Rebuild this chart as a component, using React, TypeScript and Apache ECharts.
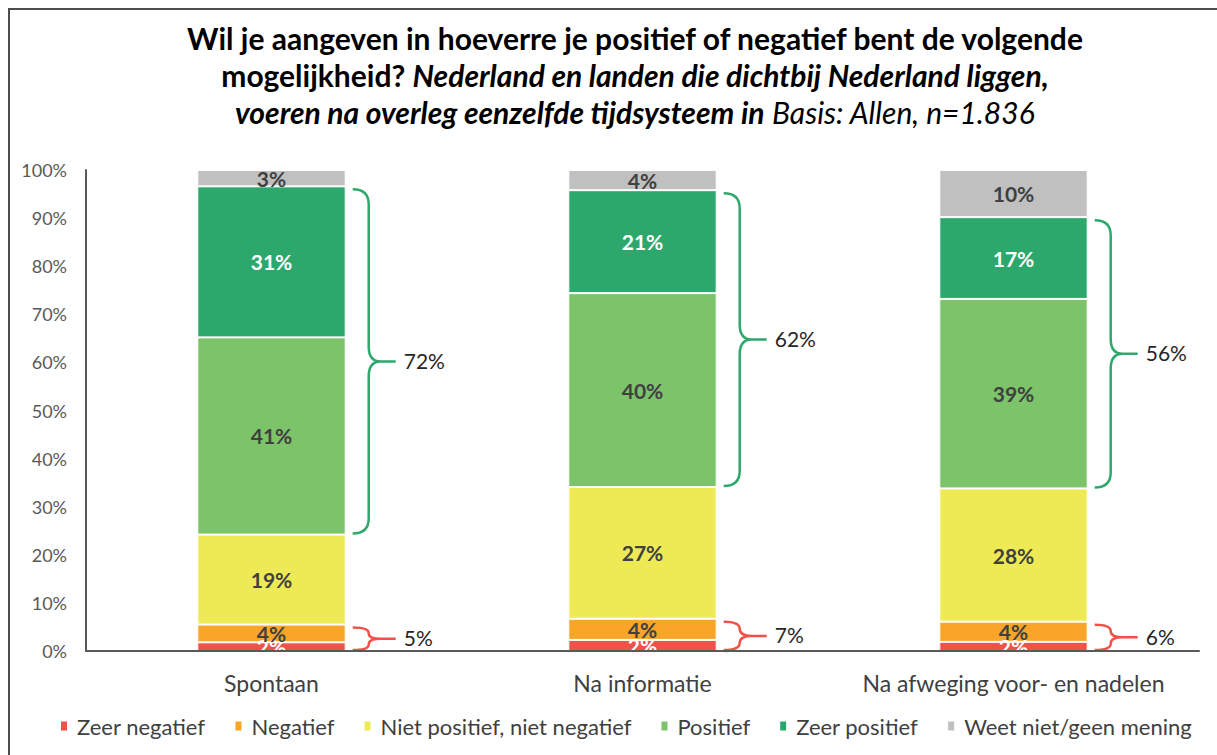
import React, { useEffect, useRef } from "react";
import * as echarts from "echarts";

const categories = ["Spontaan", "Na informatie", "Na afweging voor- en nadelen"];
const seriesNames = [
  "Zeer negatief",
  "Negatief",
  "Niet positief, niet negatief",
  "Positief",
  "Zeer positief",
  "Weet niet/geen mening",
];
const zeerNegatief = [1.8, 2.3, 1.9];
const negatief = [3.7, 4.4, 4.2];
const neutraal = [18.7, 27.4, 27.7];
const positief = [41.0, 40.3, 39.4];
const zeerPositief = [31.4, 21.4, 17.0];
const weetNiet = [3.4, 4.2, 9.8];
const positiefTotaal = ["72%", "62%", "56%"];
const negatiefTotaal = ["5%", "7%", "6%"];

const colors = ["#EF5249", "#F8A52A", "#EEEA55", "#7CC36A", "#2DA86D", "#C0C0C0"];
const labelColors = ["#FFFFFF", "#404040", "#404040", "#404040", "#FFFFFF", "#404040"];
const FONT = "Lato, 'Open Sans', sans-serif";

export default function App() {
  const ref = useRef<HTMLDivElement>(null);
  useEffect(() => {
    if (!ref.current) return;
    const chart = echarts.init(ref.current, null, { renderer: "svg" });
    const values = [zeerNegatief, negatief, neutraal, positief, zeerPositief, weetNiet];

    const braceData: any[] = [];
    const braceLabels: string[] = [];
    const braceColors: string[] = [];
    categories.forEach((_, i) => {
      const negTop = zeerNegatief[i] + negatief[i];
      const posLow = negTop + neutraal[i];
      const posTop = posLow + positief[i] + zeerPositief[i];
      braceData.push([i, 0, negTop]);
      braceLabels.push(negatiefTotaal[i]);
      braceColors.push("#F0524A");
      braceData.push([i, posLow, posTop]);
      braceLabels.push(positiefTotaal[i]);
      braceColors.push("#2EA86C");
    });

    const barSeries = seriesNames.map((name, s) => ({
      name,
      type: "bar",
      stack: "total",
      barWidth: "40%",
      data: values[s],
      itemStyle: { color: colors[s], borderColor: "#FFFFFF", borderWidth: 1 },
      label: {
        show: true,
        position: "inside",
        formatter: (p: any) => Math.round(p.value) + "%",
        color: labelColors[s],
        fontFamily: FONT,
        fontWeight: "bold",
        fontSize: 21,
      },
    }));

    const braceSeries = {
      name: "brace",
      type: "custom",
      clip: false,
      data: braceData,
      encode: { x: 0, y: [1, 2] },
      z: 5,
      renderItem: (params: any, api: any) => {
        const i = api.value(0);
        const lo = api.value(1);
        const hi = api.value(2);
        const top = api.coord([i, hi]);
        const bot = api.coord([i, lo]);
        const band = api.size([1, 0])[0];
        const x0 = top[0] + band * 0.2 + 7;
        const x1 = x0 + 16;
        const xm = x1 + 12;
        const x2 = x0 + 43;
        const yt = top[1] + 3;
        const yb = bot[1] - 1;
        const ym = (yt + yb) / 2;
        const h = yb - yt;
        const r = Math.min(15, h / 4);
        const d =
          `M${x0},${yt} Q${x1},${yt} ${x1},${yt + r} L${x1},${ym - r} Q${x1},${ym} ${xm},${ym} L${x2},${ym} ` +
          `M${xm},${ym} Q${x1},${ym} ${x1},${ym + r} L${x1},${yb - r} Q${x1},${yb} ${x0},${yb}`;
        const col = braceColors[params.dataIndex];
        return {
          type: "group",
          children: [
            {
              type: "path",
              shape: { pathData: d },
              style: { stroke: col, lineWidth: 2.5, fill: "none" },
            },
            {
              type: "text",
              x: x2 + 8,
              y: ym - 1,
              style: {
                text: braceLabels[params.dataIndex],
                fill: "#262626",
                font: `21px ${FONT}`,
                verticalAlign: "middle",
                align: "left",
              },
            },
          ],
        };
      },
    };

    chart.setOption({
      animation: false,
      backgroundColor: "#FFFFFF",
      title: {
        text:
          "{b|Wil je aangeven in hoeverre je positief of negatief bent de volgende}\n" +
          "{b|mogelijkheid? }{bi|Nederland en landen die dichtbij Nederland liggen,}\n" +
          "{bi|voeren na overleg eenzelfde tijdsysteem in}{i| Basis: Allen, n=1.836}",
        left: 630,
        top: 14,
        textAlign: "center",
        textStyle: {
          rich: {
            b: { fontFamily: FONT, fontWeight: "bold", fontSize: 30, lineHeight: 37, color: "#000000" },
            bi: { fontFamily: FONT, fontWeight: "bold", fontStyle: "italic", fontSize: 30, lineHeight: 37, color: "#000000" },
            i: { fontFamily: FONT, fontWeight: "normal", fontStyle: "italic", fontSize: 30, lineHeight: 37, color: "#000000" },
          },
        },
      },
      legend: {
        data: seriesNames,
        left: 54,
        top: 710,
        width: 1200,
        itemWidth: 8,
        itemHeight: 11,
        itemGap: 28,
        icon: "rect",
        textStyle: { fontFamily: FONT, fontSize: 22, color: "#404040", padding: [0, 0, 0, 4] },
      },
      grid: { left: 86, right: 18, top: 170, bottom: 104, containLabel: false },
      xAxis: {
        type: "category",
        data: categories,
        z: 6,
        axisLine: { lineStyle: { color: "#595959", width: 2 } },
        axisTick: { show: false },
        axisLabel: { interval: 0, fontFamily: FONT, fontSize: 23, color: "#404040", margin: 20 },
      },
      yAxis: {
        type: "value",
        min: 0,
        max: 100,
        interval: 10,
        axisLine: { show: true, lineStyle: { color: "#595959", width: 2 } },
        axisTick: { show: false },
        splitLine: { show: false },
        axisLabel: {
          fontFamily: FONT,
          fontSize: 18,
          color: "#595959",
          margin: 19,
          formatter: "{value}%",
        },
      },
      graphic: [
        { type: "line", shape: { x1: 8, y1: 9, x2: 1217, y2: 9 }, style: { stroke: "#4D4D4D", lineWidth: 2 } },
        { type: "line", shape: { x1: 9, y1: 8, x2: 9, y2: 755 }, style: { stroke: "#4D4D4D", lineWidth: 2 } },
      ],
      series: [...barSeries, braceSeries],
    });
    return () => chart.dispose();
  }, []);
  return (
    <div
      ref={ref}
      style={{ position: "fixed", left: 0, top: 0, width: 1217, height: 755, background: "#fff" }}
    />
  );
}
